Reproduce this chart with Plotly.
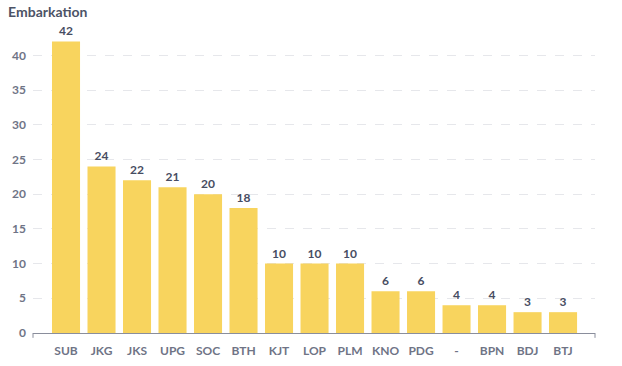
import plotly.graph_objects as go

categories = ["SUB", "JKG", "JKS", "UPG", "SOC", "BTH", "KJT", "LOP", "PLM", "KNO", "PDG", "-", "BPN", "BDJ", "BTJ"]
values = [42, 24, 22, 21, 20, 18, 10, 10, 10, 6, 6, 4, 4, 3, 3]
y_ticks = [0, 5, 10, 15, 20, 25, 30, 35, 40]

FONT = "Lato, 'Open Sans', sans-serif"

fig = go.Figure(go.Bar(
    x=list(range(len(categories))),
    y=values,
    marker=dict(color="#F8D45E", line=dict(width=0)),
    text=[str(v) for v in values],
    textposition="outside",
    cliponaxis=False,
    textfont=dict(family=FONT, size=12, color="#474D62", weight="bold"),
    hoverinfo="x+y",
))

fig.update_layout(
    width=622, height=366,
    margin=dict(l=33, r=27, t=31, b=33, autoexpand=False),
    paper_bgcolor="white", plot_bgcolor="white",
    bargap=0.21,
    showlegend=False,
    title=dict(text="<b>Embarkation</b>", x=0.013, xanchor="left", y=0.967, yanchor="middle",
               font=dict(family=FONT, size=14, color="#4C5366"), automargin=False),
    xaxis=dict(
        tickmode="array", tickvals=list(range(len(categories))), ticktext=categories,
        range=[-0.93, 14.9], automargin=False,
        showgrid=False, zeroline=False,
        showline=True, linecolor="#8A8E9C", linewidth=1,
        ticks="", ticklabelstandoff=7,
        tickfont=dict(family=FONT, size=12, color="#6F7486", weight="bold"),
    ),
    yaxis=dict(
        range=[0, 43.5], automargin=False,
        tickmode="array", tickvals=y_ticks,
        showgrid=True, gridcolor="#E6E7EB", griddash="dash", gridwidth=1,
        zeroline=False, showline=False, ticks="",
        ticklabelstandoff=6,
        tickfont=dict(family=FONT, size=12, color="#6F7486", weight="bold"),
    ),
    shapes=[
        dict(type="line", xref="paper", yref="paper", x0=0, x1=0, y0=0, y1=-0.016,
             line=dict(color="#8A8E9C", width=1)),
        dict(type="line", xref="paper", yref="paper", x0=1, x1=1, y0=0, y1=-0.016,
             line=dict(color="#8A8E9C", width=1)),
    ],
)

fig.write_html("out.html", config={"displayModeBar": False},
               post_script="document.body.style.margin='0';")
